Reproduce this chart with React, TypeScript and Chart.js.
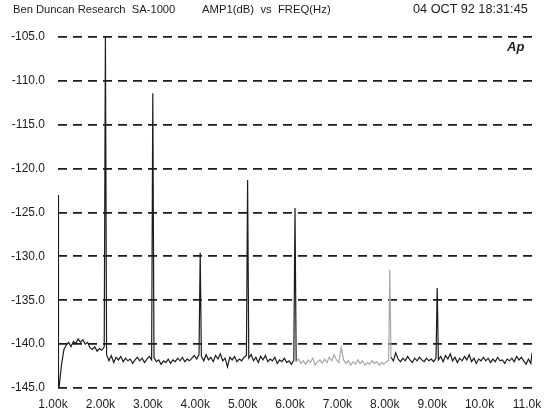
import React, { useEffect, useRef } from "react";
import { Chart, registerables } from "chart.js";

Chart.register(...registerables);

// Noise floor: frequencies (Hz) and levels (dB)
const skirtFreq = [1000, 1010];
const skirtDb = [-123.0, -144.9];

const floorFreq: number[] = [];
for (let k = 1; k <= 10; k++) for (let j = 0; j < 20; j++) floorFreq.push(k * 1000 + 25 + j * 50);

const floorDb = [
  // 1k - 2k
  -144.8, -142.3, -140.6, -140.1, -139.8, -140.3, -139.7, -139.9, -139.4, -139.8,
  -139.5, -140.0, -139.8, -140.4, -140.6, -140.3, -140.8, -140.5, -140.7, -140.3,
  // 2k - 3k
  -141.2, -141.9, -141.3, -142.1, -141.5, -141.8, -141.4, -142.0, -141.6, -141.9,
  -141.7, -142.2, -141.8, -141.5, -141.9, -141.6, -142.1, -141.7, -141.4, -141.8,
  // 3k - 4k
  -141.5, -142.0, -141.8, -142.3, -141.9, -142.1, -141.7, -142.2, -141.8, -142.0,
  -141.6, -141.9, -141.5, -142.0, -141.7, -141.9, -141.6, -141.3, -141.7, -141.2,
  // 4k - 5k
  -141.4, -141.9, -141.2, -141.8, -141.5, -142.0, -141.3, -141.7, -141.1, -141.9,
  -141.6, -142.6, -141.5, -141.8, -141.4, -142.0, -141.7, -141.9, -141.5, -141.3,
  // 5k - 6k
  -141.6, -141.2, -141.9, -141.5, -142.1, -141.4, -141.8, -141.3, -142.0, -141.7,
  -141.9, -141.5, -142.2, -141.8, -142.0, -141.6, -142.1, -141.9, -142.3, -141.8,
  // 6k - 7k
  -142.0, -141.7, -142.2, -141.9, -142.3, -141.8, -142.1, -141.6, -142.4, -142.0,
  -141.8, -142.2, -141.7, -142.1, -141.5, -141.9, -141.2, -141.8, -142.1, -140.4,
  // 7k - 8k
  -141.8, -142.2, -141.9, -142.4, -142.0, -142.3, -141.8, -142.2, -141.9, -142.4,
  -142.1, -142.3, -141.9, -142.2, -142.0, -142.4, -142.1, -142.3, -142.0, -141.9,
  // 8k - 9k
  -141.5, -141.9, -141.0, -141.7, -142.0, -141.6, -141.9, -141.4, -141.8, -142.1,
  -141.6, -141.9, -141.5, -141.8, -142.0, -141.6, -141.9, -141.7, -142.0, -141.6,
  // 9k - 10k
  -141.8, -141.4, -142.0, -141.3, -141.7, -141.1, -141.9, -141.5, -142.1, -141.6,
  -141.9, -141.4, -141.8, -141.2, -142.0, -141.6, -142.2, -141.7, -141.9, -141.5,
  // 10k - 11k
  -141.9, -141.6, -142.1, -141.7, -142.0, -141.5, -141.9, -141.8, -142.2, -141.7,
  -141.9, -141.6, -142.0, -141.4, -141.8, -141.5, -141.9, -142.3, -141.7, -142.2,
];
const endFreq = [11000];
const endDb = [-141.0];

// Harmonic spikes
const harmonicFreq = [2000, 3000, 4000, 5000, 6000, 8000, 9000];
const harmonicDb = [-105.0, -111.4, -129.6, -121.3, -124.5, -131.5, -133.6];

const xTickValues = [1000, 2000, 3000, 4000, 5000, 6000, 7000, 8000, 9000, 10000, 11000];
const xTickLabels = ["1.00k", "2.00k", "3.00k", "4.00k", "5.00k", "6.00k", "7.00k", "8.00k", "9.00k", "10.0k", "11.0k"];
const yTickValues = [-145, -140, -135, -130, -125, -120, -115, -110, -105];
const yTickLabels = ["-145.0", "-140.0", "-135.0", "-130.0", "-125.0", "-120.0", "-115.0", "-110.0", "-105.0"];

const FONT = "'Liberation Sans', Arial, Helvetica, sans-serif";
const INK = "#1c1c1c";

export default function App() {
  const ref = useRef<HTMLCanvasElement | null>(null);

  useEffect(() => {
    const pts: { x: number; y: number }[] = [];
    skirtFreq.forEach((f, i) => pts.push({ x: f, y: skirtDb[i] }));
    floorFreq.forEach((f, i) => pts.push({ x: f, y: floorDb[i] }));
    harmonicFreq.forEach((f, i) => pts.push({ x: f, y: harmonicDb[i] }));
    endFreq.forEach((f, i) => pts.push({ x: f, y: endDb[i] }));
    pts.sort((a, b) => a.x - b.x);

    const chart = new Chart(ref.current!, {
      type: "line",
      data: {
        datasets: [
          {
            data: pts,
            borderColor: INK,
            borderWidth: 1.2,
            pointRadius: 0,
            tension: 0,
            segment: {
              borderColor: (ctx: any) =>
                ctx.p0.parsed.x > 6000 && ctx.p1.parsed.x <= 8025 ? "#a8a8a8" : INK,
            },
          },
        ],
      },
      options: {
        responsive: false,
        animation: false,
        events: [],
        layout: { padding: { top: 37, right: 12, left: 0, bottom: 0 } },
        plugins: { legend: { display: false }, tooltip: { enabled: false }, title: { display: false } },
        scales: {
          x: {
            type: "linear",
            min: 1000,
            max: 11000,
            afterBuildTicks: (s: any) => {
              s.ticks = xTickValues.map((v) => ({ value: v }));
            },
            afterFit: (s: any) => {
              s.height = 27;
              s.paddingLeft = 0;
              s.paddingRight = 0;
            },
            grid: { display: false, drawTicks: false },
            border: { display: false },
            ticks: {
              padding: 9,
              labelOffset: -5,
              maxRotation: 0,
              autoSkip: false,
              color: INK,
              font: { family: FONT, size: 12 },
              callback: (v: any) => {
                const i = xTickValues.indexOf(Number(v));
                return i >= 0 ? xTickLabels[i] : "";
              },
            },
          },
          y: {
            type: "linear",
            min: -145,
            max: -105,
            afterBuildTicks: (s: any) => {
              s.ticks = yTickValues.map((v) => ({ value: v }));
            },
            afterFit: (s: any) => {
              s.width = 58;
            },
            grid: { display: true, drawTicks: false, color: INK, lineWidth: 1.8 },
            border: { display: false, dash: [9, 6] },
            ticks: {
              padding: 13,
              autoSkip: false,
              color: INK,
              font: { family: FONT, size: 12 },
              callback: (v: any) => {
                const i = yTickValues.indexOf(Number(v));
                return i >= 0 ? yTickLabels[i] : "";
              },
            },
          },
        },
      },
    } as any);
    return () => chart.destroy();
  }, []);

  const txt: React.CSSProperties = {
    position: "absolute",
    top: 2,
    fontFamily: FONT,
    fontSize: 12,
    color: INK,
    whiteSpace: "pre",
    lineHeight: "14px",
  };

  return (
    <div style={{ position: "fixed", left: 0, top: 0, width: 544, height: 415, background: "#fff", overflow: "hidden" }}>
      <canvas ref={ref} width={544} height={415} style={{ position: "absolute", left: 0, top: 0 }} />
      <div style={{ ...txt, left: 13, fontSize: 11.2 }}>Ben Duncan Research  SA-1000</div>
      <div style={{ ...txt, left: 202, fontSize: 11.3 }}>AMP1(dB)  vs  FREQ(Hz)</div>
      <div style={{ ...txt, left: 413, fontSize: 12.7, top: 1.5 }}>04 OCT 92 18:31:45</div>
      <div style={{ ...txt, top: 40, left: 507, fontStyle: "italic", fontWeight: "bold", fontSize: 13 }}>Ap</div>
    </div>
  );
}
